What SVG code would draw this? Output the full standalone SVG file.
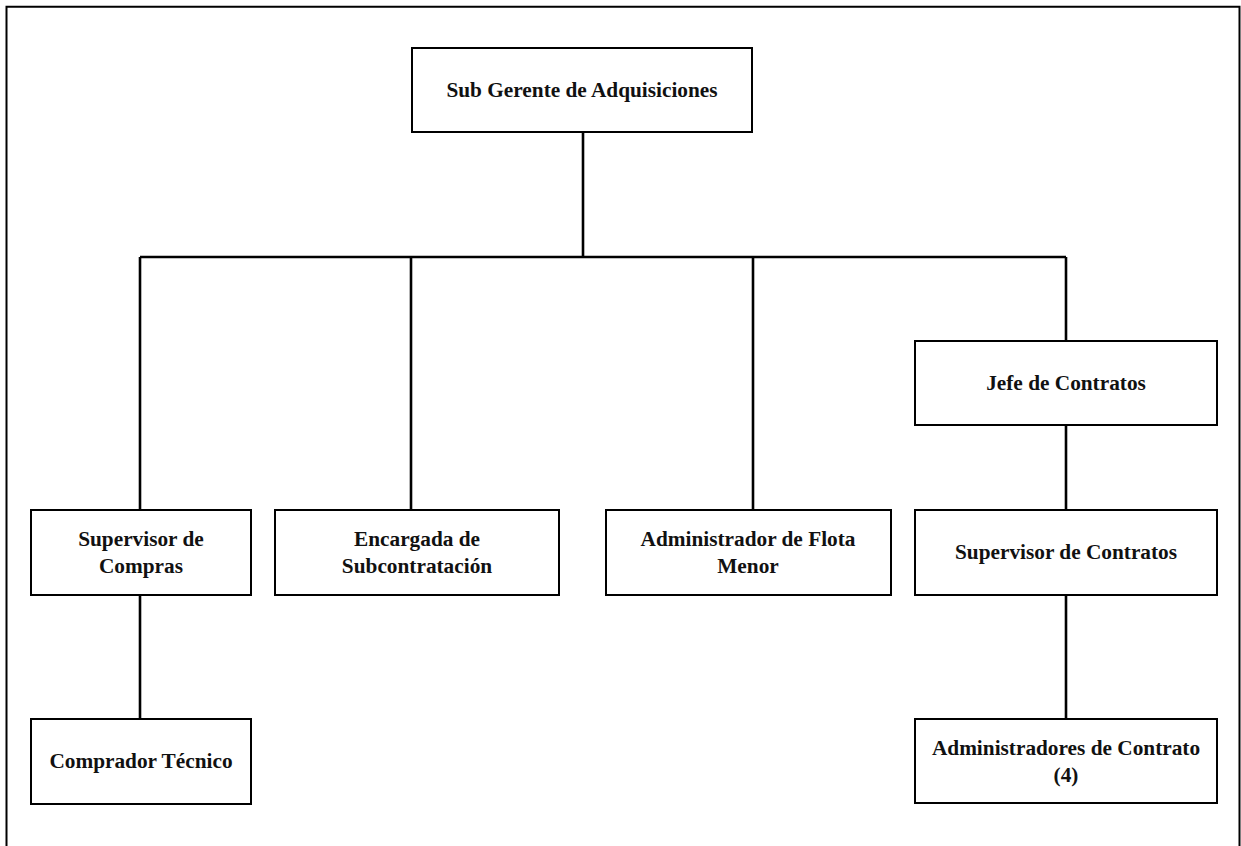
<svg xmlns="http://www.w3.org/2000/svg" width="1241" height="846" viewBox="0 0 1241 846">
  <style>
    .box { fill: #ffffff; stroke: #000000; stroke-width: 2; }
    .wire { fill: none; stroke: #000000; stroke-width: 2.6; stroke-linecap: butt; }
    .frame { fill: none; stroke: #000000; stroke-width: 2; }
    .label { font-family: "Liberation Serif", "Times New Roman", serif; font-weight: bold; font-size: 21.3px; fill: #111111; text-anchor: middle; }
  </style>
  <rect x="0" y="0" width="1241" height="846" fill="#ffffff"/>

  <!-- page frame (open at the bottom) -->
  <path class="frame" d="M6.5,846 V6.7 H1239.5 V846"/>

  <!-- reporting lines -->
  <g id="connectors">
    <path class="wire" d="M583,132 V257"/>
    <path class="wire" d="M140,257 H1066"/>
    <path class="wire" d="M140,257 V510"/>
    <path class="wire" d="M411,257 V510"/>
    <path class="wire" d="M753,257 V510"/>
    <path class="wire" d="M1066,257 V341"/>
    <path class="wire" d="M1066,425 V510"/>
    <path class="wire" d="M1066,595 V719"/>
    <path class="wire" d="M140,595 V719"/>
  </g>

  <g id="sub-gerente">
    <rect class="box" x="412" y="48" width="340" height="84"/>
    <text class="label" x="582" y="97">Sub Gerente de Adquisiciones</text>
  </g>

  <g id="jefe-contratos">
    <rect class="box" x="915" y="341" width="302" height="84"/>
    <text class="label" x="1066" y="390">Jefe de Contratos</text>
  </g>

  <g id="supervisor-compras">
    <rect class="box" x="31" y="510" width="220" height="85"/>
    <text class="label" x="141" y="546">Supervisor de</text>
    <text class="label" x="141" y="573">Compras</text>
  </g>

  <g id="encargada-subcontratacion">
    <rect class="box" x="275" y="510" width="284" height="85"/>
    <text class="label" x="417" y="546">Encargada de</text>
    <text class="label" x="417" y="573">Subcontratación</text>
  </g>

  <g id="administrador-flota">
    <rect class="box" x="606" y="510" width="285" height="85"/>
    <text class="label" x="748" y="546">Administrador de Flota</text>
    <text class="label" x="748" y="573">Menor</text>
  </g>

  <g id="supervisor-contratos">
    <rect class="box" x="915" y="510" width="302" height="85"/>
    <text class="label" x="1066" y="559">Supervisor de Contratos</text>
  </g>

  <g id="comprador-tecnico">
    <rect class="box" x="31" y="719" width="220" height="85"/>
    <text class="label" x="141" y="768">Comprador Técnico</text>
  </g>

  <g id="administradores-contrato">
    <rect class="box" x="915" y="719" width="302" height="84"/>
    <text class="label" x="1066" y="755">Administradores de Contrato</text>
    <text class="label" x="1066" y="782">(4)</text>
  </g>
</svg>
